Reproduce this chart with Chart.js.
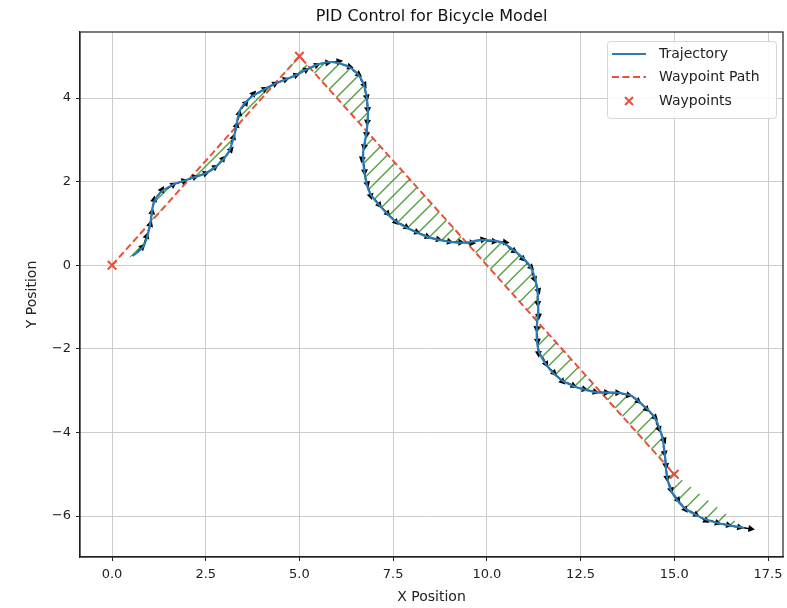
<!DOCTYPE html>
<html>
<head>
<meta charset="utf-8">
<script src="https://cdn.jsdelivr.net/npm/chart.js@4.4.1/dist/chart.umd.min.js"></script>
<style>
  html, body { margin: 0; padding: 0; background: #fff; overflow: hidden; }
</style>
</head>
<body>
<canvas id="myChart" width="791" height="608"></canvas>
<script>
// trajectory
const trajX = [0.55, 0.84, 1.01, 1.10, 1.28, 1.64, 2.08, 2.50, 2.79, 3.10, 3.28, 3.41, 3.68, 3.95,
    4.39, 4.84, 5.19, 5.55, 5.90, 6.26, 6.53, 6.70, 6.79, 6.83, 6.79, 6.70, 6.75, 6.88, 7.15, 7.50,
    7.95, 8.48, 9.02, 9.46, 9.82, 10.35, 10.80, 11.15, 11.33, 11.37, 11.33, 11.37, 11.60, 11.95,
    12.39, 12.93, 13.46, 13.85, 14.08, 14.44, 14.66, 14.75, 14.80, 14.93, 15.24, 15.68, 16.13, 16.57, 16.85]
const trajY = [0.22, 0.46, 0.94, 1.45, 1.73, 1.93, 2.07, 2.20, 2.37, 2.69, 3.17, 3.70, 4.00, 4.15,
    4.36, 4.52, 4.68, 4.82, 4.86, 4.77, 4.60, 4.36, 4.04, 3.64, 3.17, 2.69, 2.13, 1.73, 1.42, 1.10,
    0.86, 0.66, 0.56, 0.54, 0.60, 0.56, 0.30, -0.02, -0.49, -1.05, -1.53, -2.00, -2.40, -2.72,
    -2.92, -3.04, -3.05, -3.12, -3.28, -3.60, -4.05, -4.55, -5.03, -5.42, -5.78, -6.02, -6.16, -6.24, -6.28]

const waypointX = [0, 5, 15]
const waypointY = [0, 5, -5]

const xTicks = [0, 2.5, 5, 7.5, 10, 12.5, 15, 17.5]
const yTicks = [-6, -4, -2, 0, 2, 4]

const FONT = 'DejaVu Sans'
const RED = '#e8503a'
const BLUE = '#2b7bb4'
const GREEN = 'rgba(60,150,40,0.85)'

const toPts = (xs, ys) => xs.map((x, i) => ({x: x, y: ys[i]}))

// sample points along the trajectory polyline every `step` data units
function sampleAlong(xs, ys, step, start) {
    const out = []
    let t = start
    for (let i = 0; i < xs.length - 1; i++) {
        const dx = xs[i + 1] - xs[i], dy = ys[i + 1] - ys[i]
        const len = Math.hypot(dx, dy)
        while (t <= len) {
            out.push({x: xs[i] + dx * t / len, y: ys[i] + dy * t / len, dx: dx / len, dy: dy / len})
            t += step
        }
        t -= len
    }
    return out
}

// hatched area between the trajectory and the waypoint path
const errorHatch = {
    id: 'errorHatch',
    beforeDatasetsDraw(chart) {
        const {ctx, chartArea, scales} = chart
        const line = chart.getDatasetMeta(0).dataset
        ctx.save()
        ctx.beginPath()
        ctx.rect(chartArea.left, chartArea.top, chartArea.width, chartArea.height)
        ctx.clip()
        ctx.beginPath()
        line.path(ctx)
        for (let i = waypointX.length - 1; i >= 0; i--) {
            ctx.lineTo(scales.x.getPixelForValue(waypointX[i]), scales.y.getPixelForValue(waypointY[i]))
        }
        ctx.closePath()
        ctx.clip()
        ctx.strokeStyle = GREEN
        ctx.lineWidth = 1.5
        const gap = 15.5
        ctx.beginPath()
        for (let c = 0; c < chart.width + chart.height; c += gap) {
            ctx.moveTo(c, 0)
            ctx.lineTo(c - chart.height, chart.height)
        }
        ctx.stroke()
        ctx.restore()
    }
}

// heading arrows, drawn just under the trajectory line
const headingArrows = {
    id: 'headingArrows',
    afterDatasetDraw(chart, args) {
        if (args.index !== 1) return
        const {ctx, scales} = chart
        ctx.save()
        ctx.fillStyle = '#000'
        ctx.strokeStyle = '#000'
        sampleAlong(trajX, trajY, 0.3, 0.15).forEach(p => {
            const px = scales.x.getPixelForValue(p.x), py = scales.y.getPixelForValue(p.y)
            const ex = scales.x.getPixelForValue(p.x + p.dx), ey = scales.y.getPixelForValue(p.y + p.dy)
            const a = Math.atan2(ey - py, ex - px)
            ctx.save()
            ctx.translate(px, py)
            ctx.rotate(a)
            ctx.lineWidth = 1.6
            ctx.beginPath()
            ctx.moveTo(0, 0)
            ctx.lineTo(6, 0)
            ctx.stroke()
            ctx.beginPath()
            ctx.moveTo(11.5, 0)
            ctx.lineTo(5, -3.5)
            ctx.lineTo(5, 3.5)
            ctx.closePath()
            ctx.fill()
            ctx.restore()
        })
        ctx.restore()
    }
}

const frameAndText = {
    id: 'frameAndText',
    afterDraw(chart) {
        const {ctx, chartArea} = chart
        ctx.save()
        ctx.strokeStyle = '#222'
        ctx.lineWidth = 1.2
        ctx.strokeRect(chartArea.left, chartArea.top, chartArea.width, chartArea.height)

        ctx.fillStyle = '#111'
        ctx.font = '16px "' + FONT + '"'
        ctx.textAlign = 'center'
        ctx.textBaseline = 'middle'
        ctx.fillText('PID Control for Bicycle Model', (chartArea.left + chartArea.right) / 2, 17)

        // legend
        const bx = 607, by = 41, bw = 169, bh = 77
        ctx.fillStyle = 'rgba(255,255,255,0.85)'
        ctx.strokeStyle = '#d6d6d6'
        ctx.lineWidth = 1
        ctx.beginPath()
        ctx.roundRect(bx + 0.5, by + 0.5, bw, bh, 3)
        ctx.fill()
        ctx.stroke()

        const rows = [54, 77, 101]
        chart.data.datasets.forEach((ds, i) => {
            const y = rows[i]
            ctx.strokeStyle = ds.borderColor
            if (ds.pointStyle === 'crossRot') {
                ctx.lineWidth = 2
                ctx.beginPath()
                ctx.moveTo(625, y - 4); ctx.lineTo(633, y + 4)
                ctx.moveTo(633, y - 4); ctx.lineTo(625, y + 4)
                ctx.stroke()
            } else {
                ctx.lineWidth = 2
                ctx.setLineDash(ds.borderDash || [])
                ctx.beginPath()
                ctx.moveTo(612, y)
                ctx.lineTo(646, y)
                ctx.stroke()
                ctx.setLineDash([])
            }
            ctx.fillStyle = '#222'
            ctx.font = '14px "' + FONT + '"'
            ctx.textAlign = 'left'
            ctx.fillText(ds.label, 659, y)
        })
        ctx.restore()
    }
}

const ctx = document.getElementById('myChart')
const chartData = {
    type: 'scatter',
    data: {
        datasets: [{
            label: 'Trajectory',
            data: toPts(trajX, trajY),
            showLine: true,
            borderColor: BLUE,
            borderWidth: 2.2,
            pointRadius: 0,
            tension: 0.35,
            order: 2
        }, {
            label: 'Waypoint Path',
            data: toPts(waypointX, waypointY),
            showLine: true,
            borderColor: RED,
            borderWidth: 2,
            borderDash: [7, 3.5],
            pointRadius: 0,
            order: 3
        }, {
            label: 'Waypoints',
            data: toPts(waypointX, waypointY),
            showLine: false,
            pointStyle: 'crossRot',
            pointRadius: 6,
            borderColor: RED,
            backgroundColor: RED,
            pointBorderWidth: 2,
            order: 0
        }]
    },
    options: {
        responsive: false,
        devicePixelRatio: 1,
        animation: false,
        layout: {padding: {top: 32, right: 0, left: 0, bottom: 0}},
        plugins: {
            legend: {display: false},
            tooltip: {enabled: false},
            title: {display: false}
        },
        scales: {
            x: {
                type: 'linear',
                min: -0.854,
                max: 17.9,
                afterBuildTicks: axis => { axis.ticks = xTicks.map(v => ({value: v})) },
                afterFit: axis => {
                    axis.height = 51
                    axis.paddingLeft = 0
                    axis.paddingRight = 0
                },
                ticks: {
                    callback: v => v.toFixed(1),
                    font: {family: FONT, size: 13},
                    color: '#222',
                    padding: 6,
                    maxRotation: 0
                },
                grid: {color: '#cccccc', lineWidth: 1, tickLength: 4, tickColor: '#222'},
                border: {display: true, color: '#222', width: 1.2},
                title: {
                    display: true,
                    text: 'X Position',
                    font: {family: FONT, size: 14},
                    color: '#222',
                    padding: {top: 0, bottom: 2}
                }
            },
            y: {
                type: 'linear',
                min: -6.98,
                max: 5.58,
                afterBuildTicks: axis => { axis.ticks = yTicks.map(v => ({value: v})) },
                afterFit: axis => {
                    axis.width = 80
                    axis.paddingTop = 0
                    axis.paddingBottom = 0
                },
                ticks: {
                    callback: v => (v < 0 ? '\u2212' + Math.abs(v) : String(v)),
                    font: {family: FONT, size: 13},
                    color: '#222',
                    padding: 5
                },
                grid: {color: '#cccccc', lineWidth: 1, tickLength: 4, tickColor: '#222'},
                border: {display: true, color: '#222', width: 1.2},
                title: {
                    display: true,
                    text: 'Y Position',
                    font: {family: FONT, size: 14},
                    color: '#222',
                    padding: {top: 24, bottom: 0}
                }
            }
        }
    },
    plugins: [errorHatch, headingArrows, frameAndText]
}
const myChart = new Chart(ctx, chartData)
</script>
</body>
</html>
